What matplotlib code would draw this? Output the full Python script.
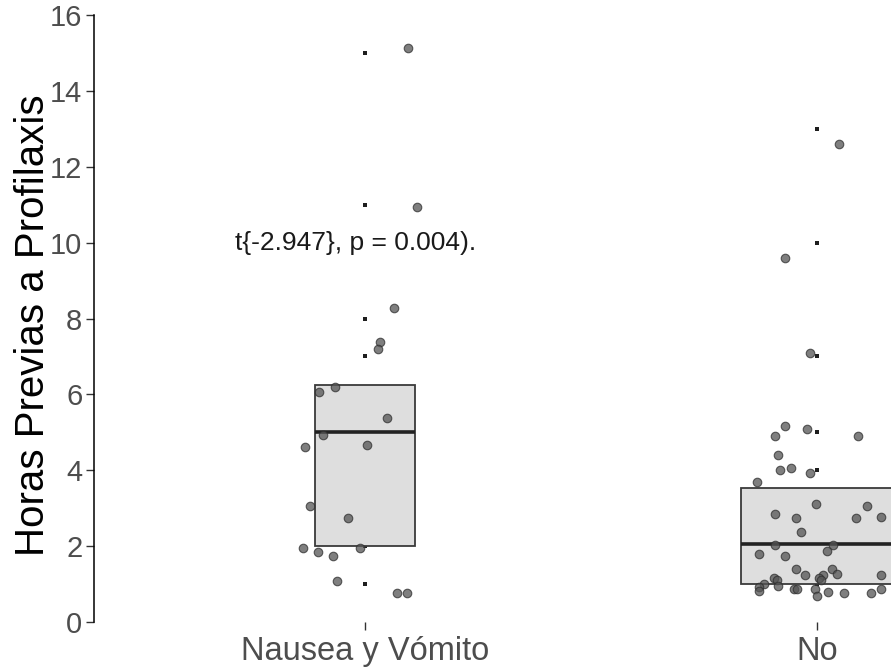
import matplotlib
matplotlib.use("Agg")
import matplotlib.pyplot as plt
import numpy as np

plt.rcParams['font.family'] = ['Liberation Sans', 'DejaVu Sans']

# Groups and box statistics (hours)
categories = ["Nausea y Vómito", "No"]
box_q1 = [2.0, 1.0]
box_median = [5.0, 2.05]
box_q3 = [6.25, 3.52]
box_widths = [0.221, 0.336]

# Raw observations drawn at the group centre
raw_nausea = [1, 1, 1, 2, 2, 2, 2, 3, 3, 5, 5, 5, 5, 6, 6, 7, 7, 8, 11, 15]
raw_no = [1, 1, 2, 2, 3, 3, 4, 5, 7, 10, 13]

# Jittered copies of the observations (horizontal offset, value)
jit_nausea_dx = [0.095, 0.115, 0.064, 0.033, 0.029, -0.066, -0.102, 0.049, -0.093, -0.133,
                 0.004, -0.122, -0.038, -0.137, -0.104, -0.071, -0.011, -0.062, 0.071, 0.093]
jit_nausea_y = [15.13, 10.94, 8.28, 7.38, 7.20, 6.20, 6.06, 5.37, 4.94, 4.62,
                4.66, 3.06, 2.73, 1.94, 1.85, 1.75, 1.94, 1.09, 0.76, 0.76]

jit_no_dx = [0.049, -0.071, -0.015, -0.071, -0.093, -0.022, 0.091, -0.086, -0.082, -0.058,
             -0.015, -0.133, -0.002, 0.111, -0.093, -0.046, 0.086, 0.142, -0.035, -0.093,
             0.035, 0.022, -0.128, -0.071, -0.046, -0.027, 0.033, 0.044, 0.013, 0.004,
             0.009, 0.142, -0.095, -0.088, -0.117, -0.086, -0.128, -0.128, -0.051, -0.044,
             -0.004, 0.000, 0.024, 0.060, 0.119, 0.142]
jit_no_y = [12.60, 9.59, 7.09, 5.17, 4.91, 5.08, 4.90, 4.39, 4.01, 4.05,
            3.92, 3.68, 3.12, 3.07, 2.84, 2.73, 2.73, 2.78, 2.36, 2.04,
            2.04, 1.86, 1.80, 1.74, 1.39, 1.23, 1.40, 1.27, 1.24, 1.15,
            1.11, 1.23, 1.17, 1.10, 1.00, 0.95, 0.92, 0.82, 0.87, 0.87,
            0.87, 0.68, 0.79, 0.76, 0.77, 0.87]

annotation = "t{-2.947}, p = 0.004)."
y_ticks = [0, 2, 4, 6, 8, 10, 12, 14, 16]

W, H = 891, 671
fig = plt.figure(figsize=(W / 100, H / 100), dpi=100)
ax = fig.add_axes([93.5 / W, (H - 622) / H, 1 - 93.5 / W, (622 - 15) / H])

positions = [1, 2]

# raw points (mostly hidden behind the boxes)
ax.scatter(np.full(len(raw_nausea), positions[0]), raw_nausea, s=8, marker='s',
           color='#1e1e1e', linewidths=0, zorder=1)
ax.scatter(np.full(len(raw_no), positions[1]), raw_no, s=8, marker='s',
           color='#1e1e1e', linewidths=0, zorder=1)

# boxes without whiskers
stats = []
for i in range(2):
    stats.append(dict(med=box_median[i], q1=box_q1[i], q3=box_q3[i],
                      whislo=box_q1[i], whishi=box_q3[i], fliers=[]))
ax.bxp(stats, positions=positions, widths=box_widths, patch_artist=True,
       showcaps=False, showfliers=False, manage_ticks=False,
       boxprops=dict(facecolor='#DEDEDE', edgecolor='#3a3a3a', linewidth=1.3),
       medianprops=dict(color='#222222', linewidth=2.6, solid_capstyle='butt'),
       whiskerprops=dict(linewidth=0), zorder=2)

# jittered points
pt_kw = dict(s=38, facecolor=(0.33, 0.33, 0.33), edgecolor=(0.18, 0.18, 0.18),
             linewidths=0.8, alpha=0.75, zorder=3)
ax.scatter(positions[0] + np.array(jit_nausea_dx), jit_nausea_y, **pt_kw)
ax.scatter(positions[1] + np.array(jit_no_dx), jit_no_y, **pt_kw)

ax.text(0.98, 10, annotation, ha='center', va='center', fontsize=19, color='#1a1a1a')

ax.set_ylim(0, 16)
ax.set_xlim(0.4, 2 + (W - 817) / 452.2)
ax.set_yticks(y_ticks)
ax.set_yticklabels([str(t) for t in y_ticks])
ax.set_xticks(positions)
ax.set_xticklabels(categories)

for side in ['top', 'right', 'bottom']:
    ax.spines[side].set_visible(False)
ax.spines['left'].set_linewidth(1.1)
ax.spines['left'].set_color('black')

ax.tick_params(axis='y', length=6, width=1.0, color='#333333', labelsize=21,
               labelcolor='#4D4D4D', pad=2)
ax.tick_params(axis='x', length=6, width=1.0, color='#333333', labelsize=23.5,
               labelcolor='#4D4D4D', pad=4)

fig.text(33 / W, 1 - 325 / H, "Horas Previas a Profilaxis", rotation=90,
         ha='center', va='center', fontsize=29, color='black')

fig.savefig("out.png", dpi=100)
